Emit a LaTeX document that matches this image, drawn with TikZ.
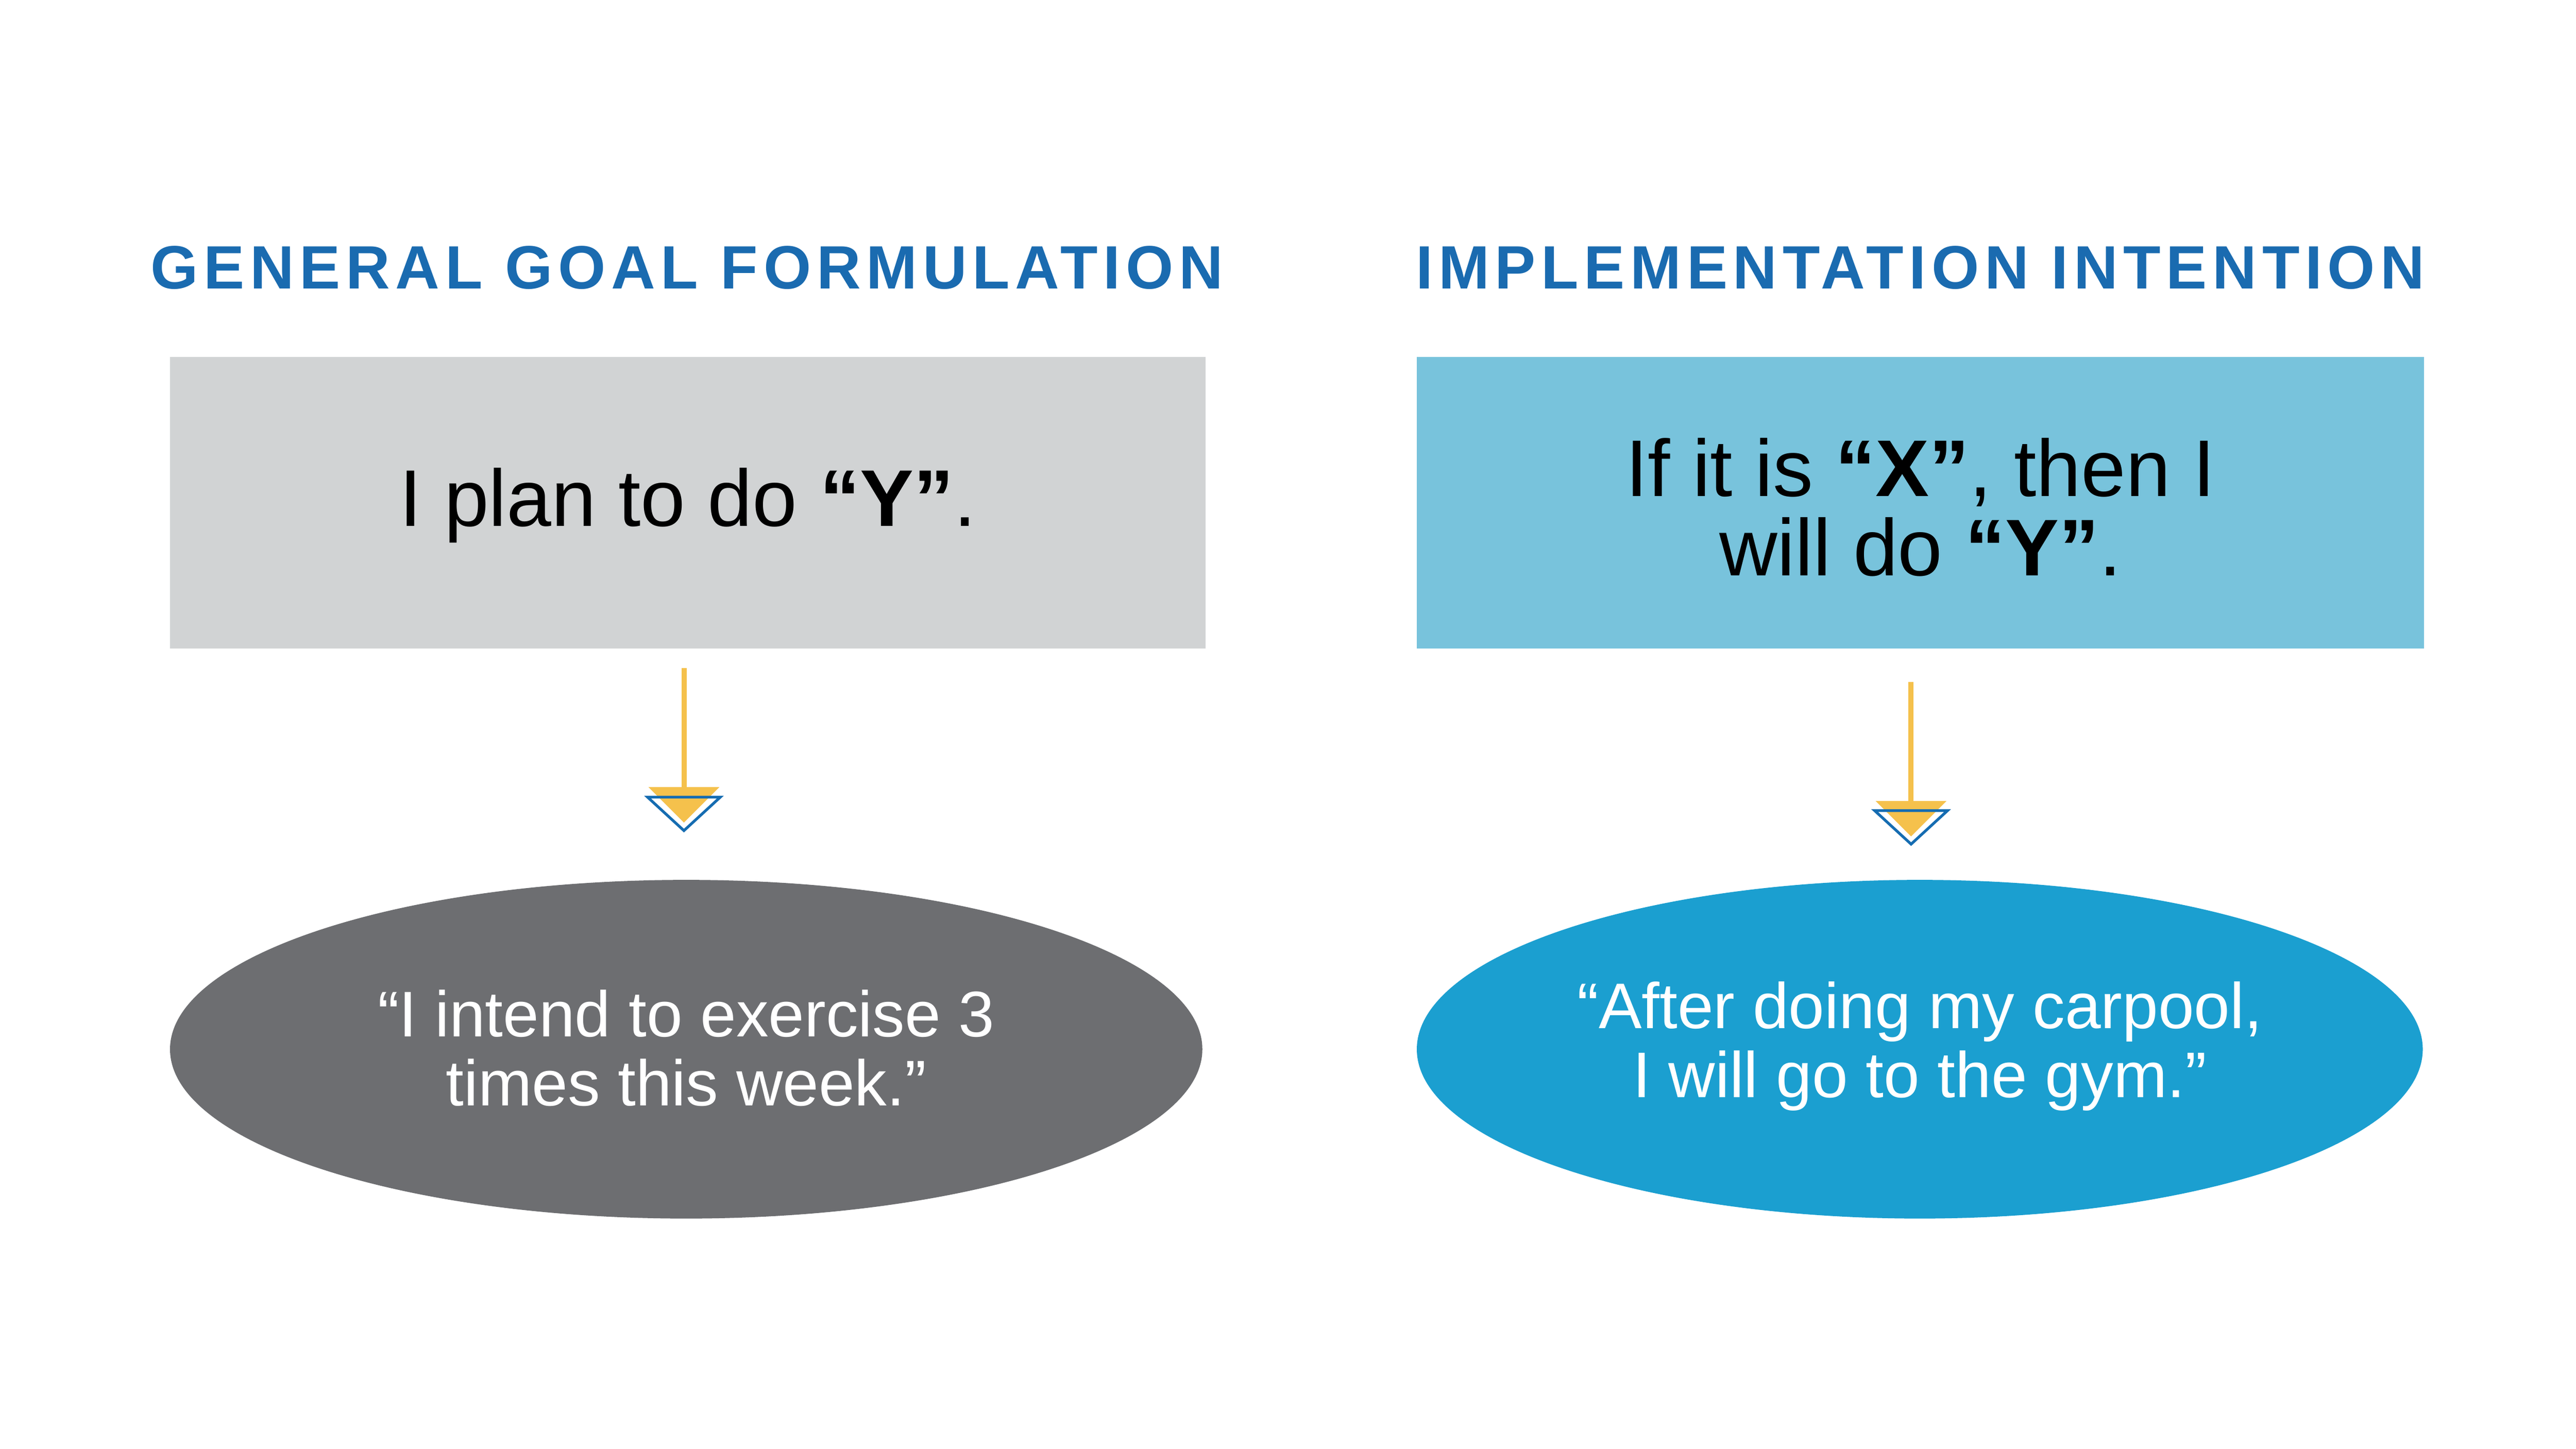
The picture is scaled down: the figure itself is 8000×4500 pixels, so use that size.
\documentclass[tikz,border=0pt]{standalone}
\usepackage{fontspec}
\setmainfont{Liberation Sans}
\newfontfamily\titlefont[LetterSpace=9]{Liberation Sans}
\definecolor{tblue}{HTML}{1A6BB0}
\definecolor{gbox}{HTML}{D1D3D4}
\definecolor{bbox}{HTML}{78C3DC}
\definecolor{gell}{HTML}{6D6E71}
\definecolor{bell}{HTML}{1B9FD0}
\definecolor{ayel}{HTML}{F5C14C}
\definecolor{ablue}{HTML}{156CB1}
\tikzset{
 ttl/.style={font=\titlefont\bfseries\fontsize{54}{60}\selectfont, text=tblue},
 boxtxt/.style={font=\fontsize{71}{70}\selectfont, align=center},
 elltxt/.style={font=\fontsize{57}{61}\selectfont, align=center, text=white},
}
\newcommand{\myarrow}[4]{% x, linetop, yellowtop, bluetop
 \fill[ayel] (#1-8,#2) rectangle (#1+8,#3);
 \fill[ayel] (#1-110,#3) -- (#1+110,#3) -- (#1,#3+110) -- cycle;
 \draw[ablue, line width=2.4pt, line join=miter] (#1-113,#4+9) -- (#1+113,#4+9) -- (#1,#4+113) -- cycle;
}
\begin{document}
\begin{tikzpicture}[x=0.01cm,y=-0.01cm]
\useasboundingbox[fill=white] (0,0) rectangle (8000,4500);
\node[ttl] (t1) at (2133,831) {GENERAL GOAL FORMULATION};
\node[ttl] (t2) at (5964,831) {IMPLEMENTATION INTENTION};
\fill[gbox] (528,1108) rectangle (3744,2015);
\fill[bbox] (4400,1108) rectangle (7528,2015);
\node[boxtxt] (b1) at (2136,1570) {I plan to do \textbf{“Y”}.};
\node[boxtxt] (b2) at (5964,1575) {If it is \textbf{“X”}, then I\\will do \textbf{“Y”}.};
\myarrow{2124}{2075}{2445}{2467}
\myarrow{5935}{2118}{2488}{2509}
\fill[gell] (2131,3259) ellipse [x radius=1603, y radius=-526];
\fill[bell] (5962,3259) ellipse [x radius=1562, y radius=-526];
\node[elltxt] (e1) at (2131,3255) {“I intend to exercise 3\\times this week.”};
\node[elltxt] (e2) at (5962,3250) {“After doing my carpool,\\I will go to the gym.”};
\end{tikzpicture}
\end{document}
